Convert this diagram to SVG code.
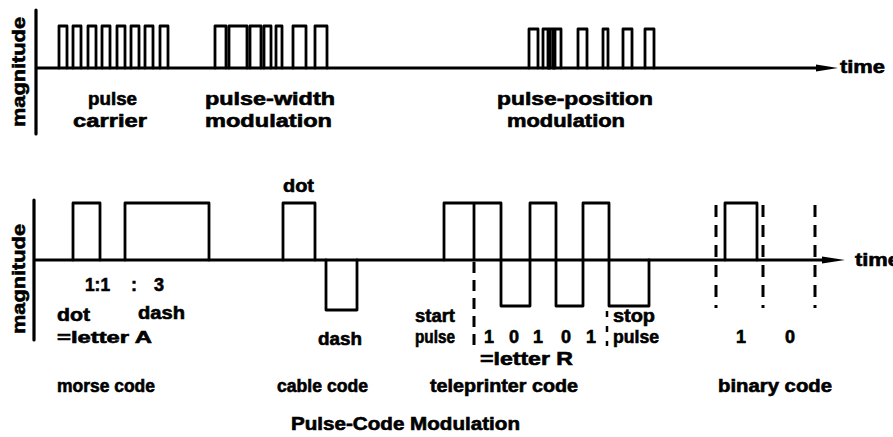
<svg xmlns="http://www.w3.org/2000/svg" width="893" height="437" viewBox="0 0 893 437">
<style>
.ax{fill:none;stroke:#000;stroke-width:3.2;stroke-linecap:round;stroke-linejoin:round}
.pl{fill:none;stroke:#000;stroke-width:2.8;stroke-linejoin:round;stroke-linecap:round}
.ds{fill:none;stroke:#000;stroke-width:3;stroke-dasharray:11 7}
.t{font-family:"Liberation Sans",Arial,sans-serif;font-weight:bold;font-size:18px;fill:#000;stroke:#000;stroke-width:0.6}
.s{font-size:16px}
</style>
<rect width="893" height="437" fill="#fff"/>
<g id="top-chart">
  <g id="top-axes">
    <path class="ax" d="M36,10V134 M36,68H822"/>
    <polygon points="816,64.5 838,68 816,71.5" fill="#000"/>
    <text class="t" x="840" y="73" textLength="45" lengthAdjust="spacingAndGlyphs">time</text>
    <text class="t" transform="translate(25,127) rotate(-90)" x="0" y="0" textLength="110" lengthAdjust="spacingAndGlyphs">magnitude</text>
  </g>
  <g id="pulse-carrier">
    <path class="pl" d="M59,68V26H67V68 M73,68V26H81V68 M88,68V26H96V68 M102,68V26H110V68 M117,68V26H125V68 M131,68V26H139V68 M145,68V26H153V68 M160,68V26H168V68"/>
    <text class="t" x="88" y="105" textLength="49" lengthAdjust="spacingAndGlyphs">pulse</text>
    <text class="t" x="73" y="127" textLength="74" lengthAdjust="spacingAndGlyphs">carrier</text>
  </g>
  <g id="pulse-width-modulation">
    <path class="pl" d="M215,68V26H226V68 M229,68V26H247V68 M250,68V26H261V68 M264,68V26H271V68 M276,68V26H282V68 M293,68V26H306V68 M315,68V26H327V68"/>
    <text class="t" x="205" y="105" textLength="130" lengthAdjust="spacingAndGlyphs">pulse-width</text>
    <text class="t" x="205" y="127" textLength="127" lengthAdjust="spacingAndGlyphs">modulation</text>
  </g>
  <g id="pulse-position-modulation">
    <path class="pl" d="M529,68V29H538V68 M543,68V29H550V68 M548,68V29H555V68 M553,68V29H561V68 M578,68V29H587V68 M603,68V29H608V68 M623,68V29H632V68 M645,68V29H654V68"/>
    <text class="t" x="497" y="105" textLength="156" lengthAdjust="spacingAndGlyphs">pulse-position</text>
    <text class="t" x="507" y="127" textLength="118" lengthAdjust="spacingAndGlyphs">modulation</text>
  </g>
</g>
<g id="bottom-chart">
  <g id="bottom-axes">
    <path class="ax" d="M34,200V340 M34,260H828"/>
    <polygon points="822,256.5 845,260 822,263.5" fill="#000"/>
    <text class="t" x="855" y="266" textLength="45" lengthAdjust="spacingAndGlyphs">time</text>
    <text class="t" transform="translate(25,334) rotate(-90)" x="0" y="0" textLength="110" lengthAdjust="spacingAndGlyphs">magnitude</text>
  </g>
  <g id="morse-code">
    <path class="pl" d="M73,260V203H100V260 M125,260V203H209V260"/>
    <text class="t" x="85" y="291" textLength="25" lengthAdjust="spacingAndGlyphs">1:1</text>
    <text class="t" x="131" y="291">:</text>
    <text class="t" x="154" y="291">3</text>
    <text class="t" x="57" y="321" textLength="33" lengthAdjust="spacingAndGlyphs">dot</text>
    <text class="t" x="138" y="319" textLength="47" lengthAdjust="spacingAndGlyphs">dash</text>
    <text class="t s" x="57" y="343" textLength="95" lengthAdjust="spacingAndGlyphs">=letter A</text>
    <text class="t" x="57" y="392" textLength="98" lengthAdjust="spacingAndGlyphs">morse code</text>
  </g>
  <g id="cable-code">
    <path class="pl" d="M283,260V203H315V260 M326,260V310H357V260"/>
    <text class="t" x="283" y="192" textLength="31" lengthAdjust="spacingAndGlyphs">dot</text>
    <text class="t" x="318" y="345" textLength="44" lengthAdjust="spacingAndGlyphs">dash</text>
    <text class="t" x="277" y="392" textLength="91" lengthAdjust="spacingAndGlyphs">cable code</text>
  </g>
  <g id="teleprinter-code">
    <path class="pl" d="M444,260V203H501V260V306H530V260V203H556V260V306H583V260V203H609V260V306H649V260 M474,203V260"/>
    <path class="ds" d="M474,262V346"/>
    <path class="ds" d="M607,311V346" style="stroke-dasharray:6 9;stroke-width:2.5"/>
    <text class="t" x="415" y="322" textLength="40" lengthAdjust="spacingAndGlyphs">start</text>
    <text class="t" x="415" y="343" textLength="40" lengthAdjust="spacingAndGlyphs">pulse</text>
    <text class="t" x="484" y="343">1</text>
    <text class="t" x="509" y="343">0</text>
    <text class="t" x="533" y="343">1</text>
    <text class="t" x="561" y="343">0</text>
    <text class="t" x="586" y="343">1</text>
    <text class="t" x="613" y="322" textLength="42" lengthAdjust="spacingAndGlyphs">stop</text>
    <text class="t" x="613" y="343" textLength="46" lengthAdjust="spacingAndGlyphs">pulse</text>
    <text class="t" x="480" y="365" textLength="93" lengthAdjust="spacingAndGlyphs">=letter R</text>
    <text class="t" x="430" y="392" textLength="148" lengthAdjust="spacingAndGlyphs">teleprinter code</text>
  </g>
  <g id="binary-code">
    <path class="ds" d="M716,205V308 M763,205V308 M815,205V308" style="stroke-dasharray:12 8"/>
    <path class="pl" d="M725,260V203H757V260"/>
    <text class="t" x="736" y="343">1</text>
    <text class="t" x="785" y="343">0</text>
    <text class="t" x="718" y="392" textLength="114" lengthAdjust="spacingAndGlyphs">binary code</text>
  </g>
</g>
<text class="t" x="291" y="430" textLength="229" lengthAdjust="spacingAndGlyphs">Pulse-Code Modulation</text>
</svg>
